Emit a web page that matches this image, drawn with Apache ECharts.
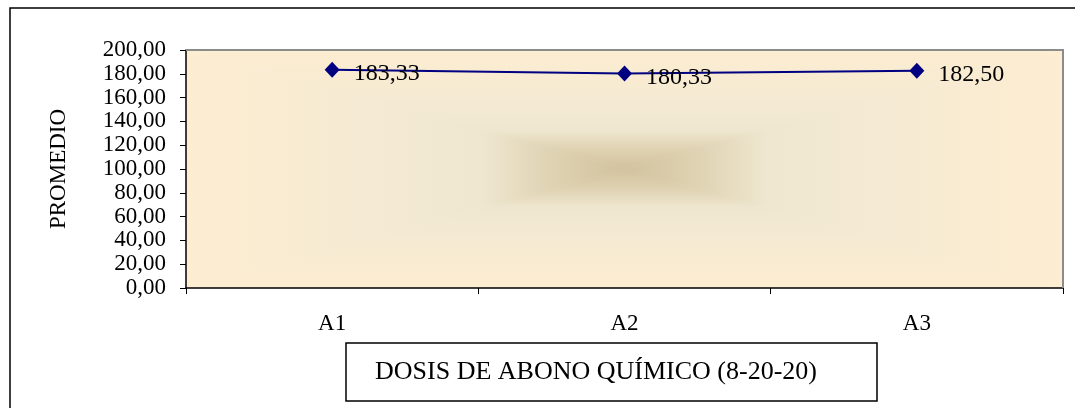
<!DOCTYPE html>
<html>
<head>
<meta charset="utf-8">
<script src="https://cdn.jsdelivr.net/npm/echarts@6/dist/echarts.min.js"></script>
<style>
  html, body { margin: 0; padding: 0; background: #ffffff; }
  #chart { width: 1075px; height: 408px; }
</style>
</head>
<body>
<div id="chart"></div>
<script>
// Dosis de abono químico (8-20-20) y promedio obtenido
const categories = ['A1', 'A2', 'A3'];
const promedio = [183.33, 180.33, 182.50];
const yMin = 0;
const yMax = 200;
const yStep = 20;
const axisTitleX = 'DOSIS DE ABONO QUÍMICO (8-20-20)';
const axisTitleY = 'PROMEDIO';

const fontFamily = '"Liberation Serif", "Times New Roman", serif';
const fmt = v => v.toFixed(2).replace('.', ',');

// plot area in pixels
const G = { left: 186, top: 50, right: 12, bottom: 120 };
const W = 1075, H = 408;
const L = G.left, T = G.top, R = W - G.right, B = H - G.bottom;
const cx = (L + R) / 2, cy = (T + B) / 2;

// rectangular "from centre" fill: four triangles meeting at the centre
const stops = [
  { offset: 0, color: '#fdedd1' },
  { offset: 0.55, color: '#f2e9d3' },
  { offset: 0.68, color: '#eee6cf' },
  { offset: 0.82, color: '#e0d4b5' },
  { offset: 1, color: '#d2c29d' }
];
function lin(x1, y1, x2, y2) {
  return { type: 'linear', x: x1, y: y1, x2: x2, y2: y2, global: true, colorStops: stops };
}
const bgTriangles = [
  { pts: [[L, T], [R, T], [cx, cy]], fill: lin(0, T, 0, cy) },
  { pts: [[L, B], [R, B], [cx, cy]], fill: lin(0, B, 0, cy) },
  { pts: [[L, T], [L, B], [cx, cy]], fill: lin(L, 0, cx, 0) },
  { pts: [[R, T], [R, B], [cx, cy]], fill: lin(R, 0, cx, 0) }
].map(t => ({
  type: 'polygon',
  silent: true,
  z: -10,
  shape: { points: t.pts },
  style: { fill: t.fill, stroke: t.fill, lineWidth: 0.6 }
}));

const chart = echarts.init(document.getElementById('chart'), null, { renderer: 'canvas' });

chart.setOption({
  animation: false,
  backgroundColor: '#ffffff',
  textStyle: { fontFamily: fontFamily, color: '#000000' },
  grid: { left: G.left, top: G.top, right: G.right, bottom: G.bottom, containLabel: false },
  graphic: [
    // outer chart frame
    {
      type: 'rect', silent: true, z: -20,
      shape: { x: 10, y: 8, width: 1200, height: 600 },
      style: { fill: '#ffffff', stroke: '#000000', lineWidth: 1.5 }
    },
    ...bgTriangles,
    // plot border (top and right)
    {
      type: 'polyline', silent: true, z: 5,
      shape: { points: [[L, T], [R, T], [R, B]] },
      style: { stroke: '#8c8c8c', lineWidth: 2, fill: null }
    },
    // category axis title box
    {
      type: 'rect', silent: true, z: 5,
      shape: { x: 346, y: 343, width: 531, height: 58 },
      style: { fill: '#ffffff', stroke: '#000000', lineWidth: 1.5 }
    },
    {
      type: 'text', silent: true, z: 6,
      x: 375, y: 372,
      style: {
        text: axisTitleX,
        font: '26px ' + fontFamily,
        fill: '#000000',
        verticalAlign: 'middle',
        align: 'left'
      }
    }
  ],
  xAxis: {
    type: 'category',
    data: categories,
    boundaryGap: true,
    axisLine: { show: true, onZero: false, lineStyle: { color: '#000000', width: 1.5 } },
    axisTick: { show: true, alignWithLabel: false, length: 6, inside: false, lineStyle: { color: '#000000' } },
    axisLabel: { margin: 24, fontSize: 23, fontFamily: fontFamily, color: '#000000' },
    splitLine: { show: false }
  },
  yAxis: {
    type: 'value',
    min: yMin,
    max: yMax,
    interval: yStep,
    name: axisTitleY,
    nameLocation: 'middle',
    nameGap: 116,
    nameRotate: 90,
    nameTextStyle: { fontSize: 23, fontFamily: fontFamily, color: '#000000' },
    axisLine: { show: true, lineStyle: { color: '#000000', width: 1.5 } },
    axisTick: { show: true, length: 6, lineStyle: { color: '#000000' } },
    axisLabel: {
      margin: 20, fontSize: 23, fontFamily: fontFamily, color: '#000000',
      showMinLabel: true, showMaxLabel: true, hideOverlap: false,
      formatter: v => fmt(v)
    },
    splitLine: { show: false }
  },
  series: [{
    type: 'line',
    data: promedio,
    symbol: 'diamond',
    symbolSize: [15, 16],
    lineStyle: { color: '#000080', width: 2 },
    itemStyle: { color: '#000080' },
    z: 3,
    label: {
      show: true,
      position: 'right',
      distance: 14,
      offset: [0, 4],
      fontSize: 24,
      fontFamily: fontFamily,
      color: '#000000',
      formatter: p => fmt(p.value)
    }
  }]
});
</script>
</body>
</html>
